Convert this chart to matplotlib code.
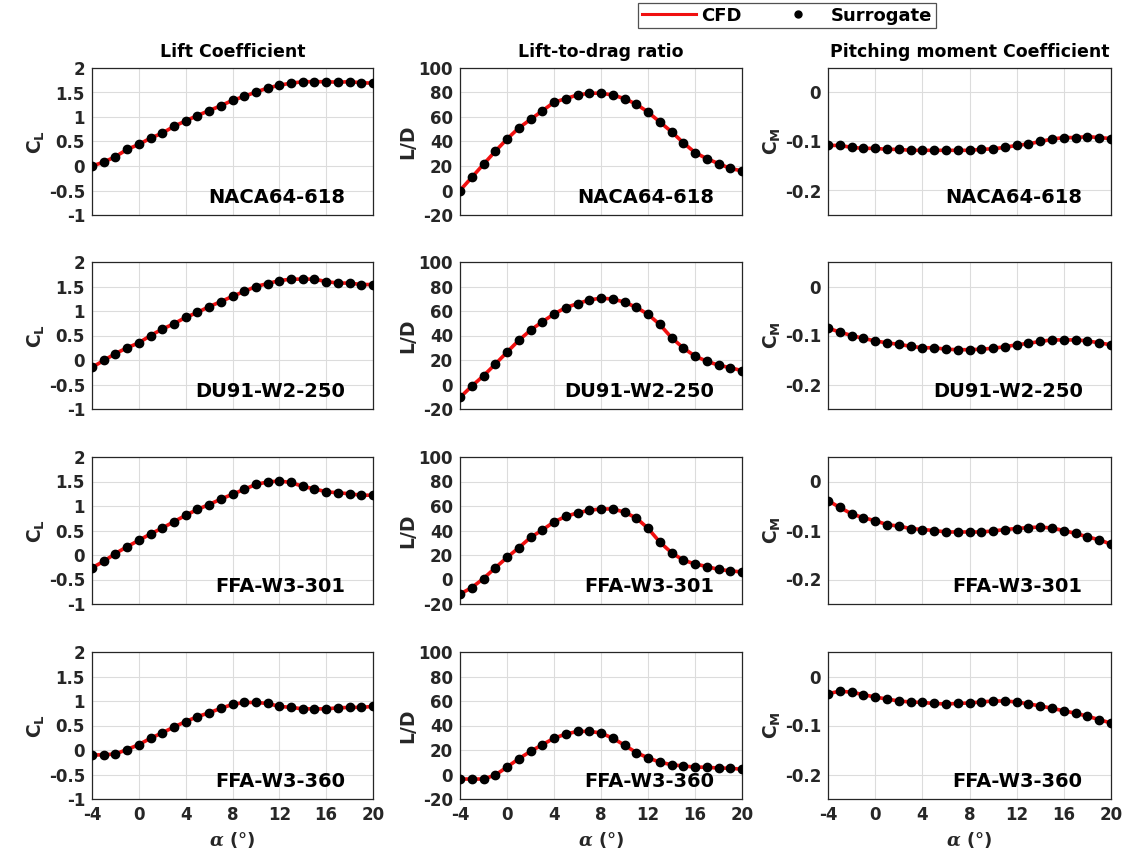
import numpy as np
import matplotlib
matplotlib.use('Agg')
import matplotlib.pyplot as plt
from matplotlib.lines import Line2D

# angle of attack (deg)
alpha = np.arange(-4, 21, 1)

airfoils = ['NACA64-618', 'DU91-W2-250', 'FFA-W3-301', 'FFA-W3-360']

# lift coefficient
cl_naca = [0.00, 0.08, 0.19, 0.34, 0.44, 0.57, 0.67, 0.81, 0.92, 1.03, 1.13, 1.23, 1.34,
           1.42, 1.51, 1.59, 1.65, 1.69, 1.72, 1.72, 1.72, 1.71, 1.72, 1.70, 1.69]
cl_du91 = [-0.15, -0.01, 0.13, 0.25, 0.35, 0.50, 0.63, 0.74, 0.87, 0.97, 1.09, 1.19, 1.30,
           1.40, 1.50, 1.56, 1.62, 1.65, 1.65, 1.65, 1.60, 1.57, 1.57, 1.54, 1.54]
cl_ffa301 = [-0.26, -0.13, 0.03, 0.17, 0.30, 0.43, 0.55, 0.68, 0.81, 0.93, 1.03, 1.14, 1.24,
             1.34, 1.44, 1.49, 1.51, 1.48, 1.40, 1.35, 1.29, 1.27, 1.25, 1.22, 1.22]
cl_ffa360 = [-0.10, -0.10, -0.08, 0.01, 0.11, 0.24, 0.35, 0.47, 0.58, 0.68, 0.76, 0.85, 0.93,
             0.97, 0.97, 0.95, 0.89, 0.87, 0.84, 0.84, 0.84, 0.86, 0.87, 0.87, 0.89]

# lift-to-drag ratio
ld_naca = [0.0, 10.7, 21.4, 32.0, 42.0, 51.0, 58.0, 65.0, 72.0, 75.0, 78.0, 79.4, 79.4,
           78.0, 75.0, 70.5, 64.0, 56.0, 48.0, 39.0, 31.0, 26.0, 22.0, 18.0, 16.0]
ld_du91 = [-10.6, -1.3, 7.1, 16.6, 26.4, 36.0, 44.3, 51.2, 57.5, 62.8, 66.0, 69.0, 70.5,
           69.7, 67.3, 63.0, 57.3, 49.0, 38.3, 29.8, 23.2, 19.0, 15.8, 13.7, 11.3]
ld_ffa301 = [-11.9, -6.6, 0.8, 9.5, 18.0, 25.9, 34.3, 40.4, 47.0, 51.5, 54.4, 56.5, 57.6,
             57.6, 55.0, 50.2, 41.8, 30.6, 21.9, 15.8, 12.7, 10.6, 8.2, 7.1, 6.1]
ld_ffa360 = [-3.7, -3.7, -3.7, -0.5, 6.1, 12.8, 18.9, 24.3, 29.6, 33.0, 35.2, 35.2, 33.9,
             29.6, 24.0, 17.9, 13.6, 10.1, 8.0, 6.9, 6.1, 5.9, 5.3, 5.1, 4.3]

# pitching moment coefficient
cm_naca = [-0.108, -0.108, -0.112, -0.114, -0.114, -0.116, -0.116, -0.118, -0.118, -0.118,
           -0.118, -0.118, -0.118, -0.116, -0.115, -0.112, -0.108, -0.105, -0.100, -0.095,
           -0.092, -0.092, -0.090, -0.092, -0.094]
cm_du91 = [-0.085, -0.093, -0.100, -0.106, -0.111, -0.115, -0.118, -0.122, -0.125, -0.125,
           -0.128, -0.129, -0.129, -0.128, -0.126, -0.123, -0.119, -0.116, -0.112, -0.109,
           -0.109, -0.109, -0.111, -0.115, -0.119]
cm_ffa301 = [-0.039, -0.053, -0.066, -0.074, -0.080, -0.088, -0.091, -0.096, -0.098, -0.100,
             -0.103, -0.103, -0.103, -0.103, -0.101, -0.098, -0.096, -0.094, -0.093, -0.095,
             -0.100, -0.106, -0.113, -0.119, -0.128]
cm_ffa360 = [-0.035, -0.030, -0.032, -0.037, -0.042, -0.046, -0.050, -0.052, -0.053, -0.055,
             -0.056, -0.055, -0.054, -0.052, -0.050, -0.050, -0.052, -0.056, -0.060, -0.065,
             -0.070, -0.075, -0.081, -0.088, -0.095]

CL = [cl_naca, cl_du91, cl_ffa301, cl_ffa360]
LD = [ld_naca, ld_du91, ld_ffa301, ld_ffa360]
CM = [cm_naca, cm_du91, cm_ffa301, cm_ffa360]

titles = ['Lift Coefficient', 'Lift-to-drag ratio', 'Pitching moment Coefficient']
ylabels = [r'$\mathbf{C_L}$', 'L/D', r'$\mathbf{C_M}$']
ylims = [(-1, 2), (-20, 100), (-0.25, 0.05)]
yticks = [np.arange(-1, 2.01, 0.5), np.arange(-20, 101, 20), [-0.2, -0.1, 0]]
yticklabels = [['-1', '-0.5', '0', '0.5', '1', '1.5', '2'],
               ['-20', '0', '20', '40', '60', '80', '100'],
               ['-0.2', '-0.1', '0']]
xticks = np.arange(-4, 21, 4)
xticklabels = ['-4', '0', '4', '8', '12', '16', '20']

plt.rcParams['font.family'] = 'DejaVu Sans'
plt.rcParams['font.weight'] = 'bold'
plt.rcParams['axes.unicode_minus'] = False
plt.rcParams['mathtext.fontset'] = 'custom'
plt.rcParams['mathtext.rm'] = 'DejaVu Sans:bold'
plt.rcParams['mathtext.bf'] = 'DejaVu Sans:bold'
plt.rcParams['mathtext.it'] = 'DejaVu Serif:italic'

dark = '#262626'
red = '#f01010'
fig = plt.figure(figsize=(11.36, 8.61), dpi=100)

W = 1136.0
H = 861.0
col_left = [92, 460, 828]
col_width = [281, 282, 283]
row_top = [68, 262, 457, 652]
row_h = 147

for i in range(4):
    data = [CL[i], LD[i], CM[i]]
    for j in range(3):
        ax = fig.add_axes([col_left[j] / W, 1 - (row_top[i] + row_h) / H,
                           col_width[j] / W, row_h / H])
        ax.plot(alpha, data[j], color=red, lw=2.6, zorder=2)
        ax.plot(alpha, data[j], 'o', color='black', ms=6, zorder=3)
        ax.set_xlim(-4, 20)
        ax.set_ylim(*ylims[j])
        ax.set_xticks(xticks)
        ax.set_yticks(yticks[j])
        ax.set_yticklabels(yticklabels[j], fontweight='bold')
        ax.grid(True, color='#dcdcdc', lw=0.8)
        ax.set_axisbelow(True)
        ax.tick_params(direction='in', length=0, labelsize=12, colors=dark,
                       labelcolor=dark, pad=5)
        for s in ax.spines.values():
            s.set_color(dark)
            s.set_linewidth(0.9)
        if i < 3:
            ax.set_xticklabels([])
        else:
            ax.set_xticklabels(xticklabels, fontweight='bold')
            ax.set_xlabel(r'$\alpha\ \mathbf{(°)}$', fontsize=13, fontweight='normal',
                          color=dark, labelpad=4)
        ax.set_ylabel(ylabels[j], fontsize=13.5, fontweight='bold', color=dark, labelpad=1)
        if i == 0:
            ax.set_title(titles[j], fontsize=12.5, fontweight='bold', pad=8)
        ax.text(0.9, 0.12, airfoils[i], transform=ax.transAxes, ha='right', va='center',
                fontsize=14, fontweight='bold', color='black')

handles = [Line2D([0], [0], color=red, lw=2.2),
           Line2D([0], [0], marker='o', color='black', ls='none', ms=5)]
leg = fig.legend(handles, ['CFD', 'Surrogate'], loc='upper center',
                 bbox_to_anchor=(787 / W, 1 - 3 / H), ncol=2, fancybox=False,
                 prop={'weight': 'bold', 'size': 13}, handlelength=3.0,
                 columnspacing=1.6, handletextpad=0.3, borderpad=0.2,
                 borderaxespad=0)
leg.get_frame().set_edgecolor(dark)
leg.get_frame().set_linewidth(0.9)

fig.savefig('out.png', dpi=100)
